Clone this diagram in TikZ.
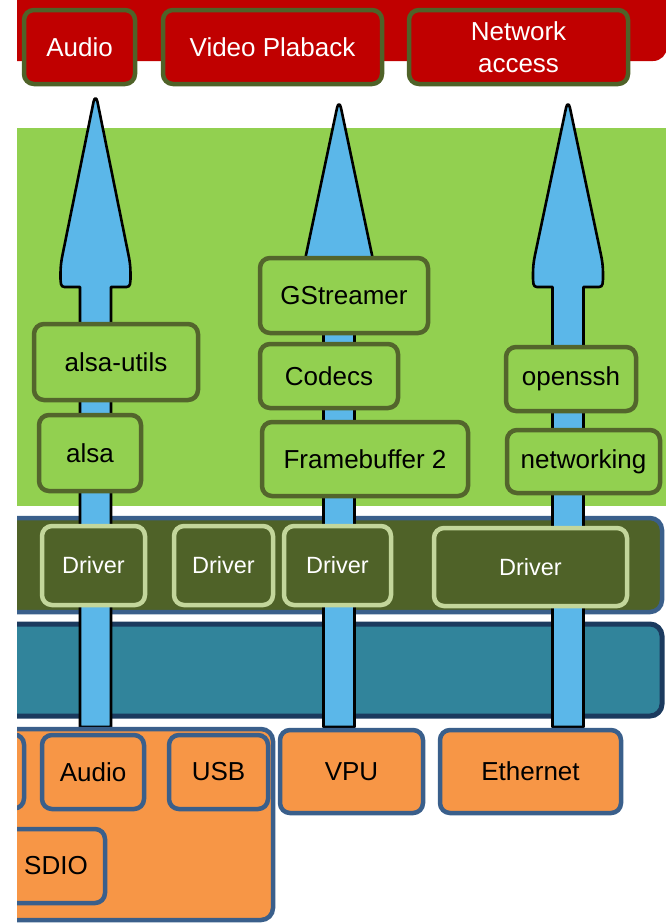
\documentclass[tikz,border=0pt]{standalone}
\usepackage{fontspec}
\setmainfont{Liberation Sans}

\definecolor{appred}{HTML}{C00000}
\definecolor{olive}{HTML}{4F6228}
\definecolor{leaf}{HTML}{92D050}
\definecolor{pkgedge}{HTML}{53652C}
\definecolor{drvedge}{HTML}{C3D69B}
\definecolor{bandblue}{HTML}{3A5F8B}
\definecolor{tealband}{HTML}{31849B}
\definecolor{navy}{HTML}{1B3A5E}
\definecolor{sky}{HTML}{5BB7E9}
\definecolor{hworange}{HTML}{F79646}

% one upward block arrow: #1 = centre x, #2 = tip y
\newcommand\upshaft[2]{%
  \begin{scope}[xshift=#1]
    \draw[shaftbody]
      (-15.5,727) -- (-15.5,287) -- (-31,287)
      .. controls (-35,287) and (-35,283) .. (-35,275)
      .. controls (-35,265) and (-34,260) .. (-33,255)
      -- (-2,{#2+5}) .. controls (-1,{#2}) and (1,{#2}) .. (2,{#2+5})
      -- (33,255)
      .. controls (34,260) and (35,265) .. (35,275)
      .. controls (35,283) and (35,287) .. (31,287)
      -- (15.5,287) -- (15.5,727) -- cycle;
  \end{scope}}

\tikzset{
  mainfont/.style={font=\fontsize{26}{32}\selectfont},
  box/.style={rounded corners=10, inner sep=0pt, align=center, mainfont},
  appbox/.style={box, fill=appred, draw=olive, line width=4.5, text=white},
  pkgbox/.style={box, fill=leaf, draw=pkgedge, line width=4.5, text=black},
  drvbox/.style={box, fill=olive, draw=drvedge, line width=4.5, text=white,
                 font=\fontsize{23.5}{28}\selectfont},
  hwbox/.style={box, fill=hworange, draw=bandblue, line width=4.5, text=black},
  shaftbody/.style={fill=sky, draw=black, line width=2.6, line join=round},
}

\begin{document}
\begin{tikzpicture}[x=1pt, y=-1pt]
  \useasboundingbox (0,0) rectangle (665,924);
  \begin{scope}
    \clip (17,-40) rectangle (700,960);

    % layer bands
    \fill[appred, rounded corners=14] (-30,-40) rectangle (667,61);
    \fill[leaf] (0,128) rectangle (700,506);
    \draw[fill=olive, draw=bandblue, line width=4.5, rounded corners=12]
      (-30,518) rectangle (662,612);
    \draw[fill=tealband, draw=navy, line width=5, rounded corners=12]
      (-30,624) rectangle (662,716);

    % data paths
    \upshaft{95.5}{97}
    \upshaft{339}{103}
    \upshaft{568}{103}

    % applications
    \node[appbox, minimum width=111, minimum height=74] (appaudio) at (79.5,47) {Audio};
    \node[appbox, minimum width=219, minimum height=74] (appvideo) at (272.5,47) {Video Plaback};
    \node[appbox, minimum width=219, minimum height=74] (appnet) at (518.5,47) {Network\\access};

    % user-space packages
    \node[pkgbox, minimum width=164, minimum height=76] (alsautils) at (116,362) {alsa-utils};
    \node[pkgbox, minimum width=102, minimum height=76] (alsa) at (90,453) {alsa};
    \node[pkgbox, minimum width=168, minimum height=75] (gst) at (344,295.5) {GStreamer};
    \node[pkgbox, minimum width=138, minimum height=64] (codecs) at (329,376) {Codecs};
    \node[pkgbox, minimum width=206, minimum height=74] (fb) at (365,459) {Framebuffer 2};
    \node[pkgbox, minimum width=130, minimum height=64] (openssh) at (571,379) {openssh};
    \node[pkgbox, minimum width=153, minimum height=63] (networking) at (583.5,461.5) {networking};

    % kernel drivers
    \node[drvbox, minimum width=103, minimum height=79] (drvA) at (93.5,565.5) {Driver};
    \node[drvbox, minimum width=99, minimum height=79] (drvB) at (223.5,565.5) {Driver};
    \node[drvbox, minimum width=107, minimum height=79] (drvC) at (337.5,565.5) {Driver};
    \node[drvbox, minimum width=193, minimum height=78] (drvD) at (530.5,567) {Driver};

    % hardware
    \draw[fill=hworange, draw=bandblue, line width=4.5, rounded corners=12]
      (-30,729) rectangle (273,920);
    \node[hwbox, minimum width=84, minimum height=74] (hwleft) at (-18,771.5) {};
    \node[hwbox, minimum width=102, minimum height=74] (hwaudio) at (93,772) {Audio};
    \node[hwbox, minimum width=99, minimum height=74] (hwusb) at (218.5,772) {USB};
    \node[hwbox, minimum width=98, minimum height=74] (hwsdio) at (56,866) {SDIO};
    \node[hwbox, minimum width=143, minimum height=83] (hwvpu) at (351.5,771.5) {VPU};
    \node[hwbox, minimum width=181, minimum height=83] (hweth) at (530.5,771.5) {Ethernet};
  \end{scope}
\end{tikzpicture}
\end{document}
